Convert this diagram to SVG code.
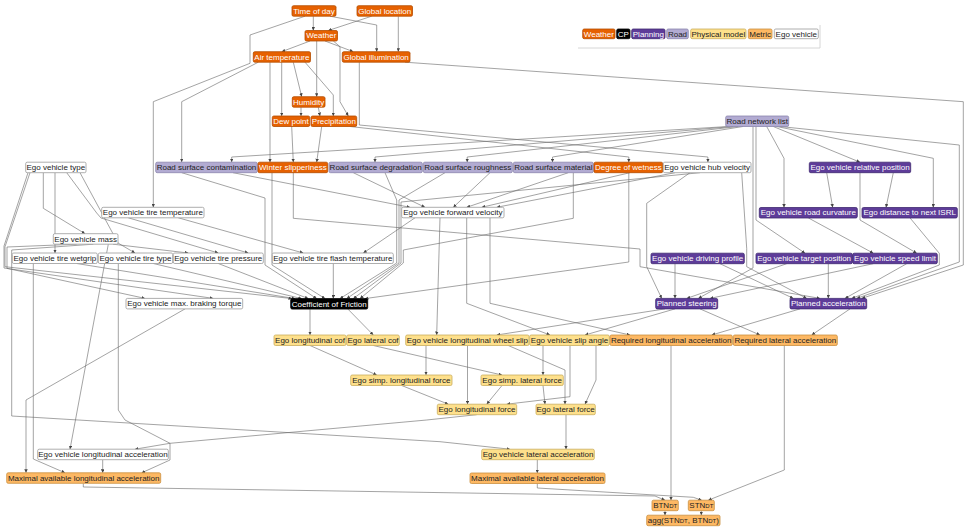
<svg xmlns="http://www.w3.org/2000/svg" width="969" height="531" viewBox="0 0 969 531">
<defs>
<marker id="ah" viewBox="0 0 10 10" refX="10" refY="5" markerWidth="3.5" markerHeight="3.5" markerUnits="userSpaceOnUse" orient="auto"><path d="M0,0 L10,5 L0,10z" fill="#444"/></marker>
<style>
text{font-family:"Liberation Sans",Arial,sans-serif;font-size:8px;text-anchor:middle}
.e path{fill:none;stroke:#666;stroke-width:0.6;marker-end:url(#ah)}
.n rect{rx:1.5;ry:1.5;stroke-width:0.8}
.w rect{fill:#e66101;stroke:#b34d00}.w text{fill:#fff}
.p rect{fill:#5e3c99;stroke:#3f2870}.p text{fill:#fff}
.r rect{fill:#b2abd2;stroke:#8c86ad}.r text{fill:#222}
.m rect{fill:#fee08b;stroke:#c9ad5e}.m text{fill:#222}
.t rect{fill:#fdb863;stroke:#c98f40}.t text{fill:#222}
.g rect{fill:#fff;stroke:#999}.g text{fill:#222}
.c rect{fill:#000;stroke:#000}.c text{fill:#fff}
.s{font-size:6px}
</style>
</defs>
<rect width="969" height="531" fill="#fff"/>
<g id="legend" class="n">
<polyline points="820,25 820,48 578,48" fill="none" stroke="#ccc" stroke-width="0.8"/>
<g class="w"><rect x="582.7" y="29" width="32.3" height="9.7"/><text x="598.85" y="36.6">Weather</text></g>
<g class="c"><rect x="616.7" y="29" width="13.3" height="9.7"/><text x="623.35" y="36.6">CP</text></g>
<g class="p"><rect x="631.7" y="29" width="33.3" height="9.7"/><text x="648.35" y="36.6">Planning</text></g>
<g class="r"><rect x="666.7" y="29" width="21.6" height="9.7"/><text x="677.5" y="36.6">Road</text></g>
<g class="m"><rect x="690.7" y="29" width="55.3" height="9.7"/><text x="718.35" y="36.6">Physical model</text></g>
<g class="t"><rect x="748.3" y="29" width="23.7" height="9.7"/><text x="760.15" y="36.6">Metric</text></g>
<g class="g"><rect x="774.3" y="29" width="44" height="9.7"/><text x="796.3" y="36.6">Ego vehicle</text></g>
</g>
<g id="connectors" class="e">
<path d="M313.3,16.2 V30.5"/>
<path d="M371.7,16.2 L328.3,30.5"/>
<path d="M330,16.2 L376.7,25 V51.7"/>
<path d="M398.3,16.2 V51.7"/>
<path d="M305,16.2 L250,35 V63.3 L153.3,101.7 V207.3"/>
<path d="M310,41 L281.7,51.7"/>
<path d="M316.7,41 V96.7"/>
<path d="M325,41 L353.3,51.7"/>
<path d="M333.3,41 L340,46.7 V101.7 L348.3,116"/>
<path d="M281.7,62.2 V116"/>
<path d="M293.3,62.2 L301.7,96.7"/>
<path d="M305,62.2 L333.3,95 V116"/>
<path d="M270,62.2 V162.2"/>
<path d="M258.3,62.2 L181.7,101.7 V162.2"/>
<path d="M301,107.2 V116"/>
<path d="M318.3,107.2 L320,116"/>
<path d="M291.7,126.5 L293.3,162.2"/>
<path d="M321.7,126.5 L316.7,162.2"/>
<path d="M728,126.5 L231.7,157 V162.2"/>
<path d="M733,126.5 L375,157 V162.2"/>
<path d="M738,126.5 L467.2,157 V162.2"/>
<path d="M743,126.5 L552.5,157 V162.2"/>
<path d="M350,126.5 L628.8,157 V162.2"/>
<path d="M359.3,62.2 V125 L707.9,157 V162.2"/>
<path d="M405,62.2 L963.3,101.7 V265 L861.7,298.4"/>
<path d="M766.7,126.5 L784,158.3 V207.5"/>
<path d="M773.3,126.5 L860,162.2"/>
<path d="M776.7,126.5 L933.3,158.3 V207.5"/>
<path d="M780,126.5 L959.3,145 V262 L856.7,298.4"/>
<path d="M756,126.5 V220 L805,253.2"/>
<path d="M753,126.5 V268 L698.3,298.4"/>
<path d="M826.7,172.7 L832.7,207.5"/>
<path d="M893.3,172.7 L886,207.5"/>
<path d="M860,172.7 V220 L916.7,253.2"/>
<path d="M808.3,217.9 L873.3,253.2"/>
<path d="M910,217.9 L939.3,253.3 V265 L851.7,298.4"/>
<path d="M675,263.7 V298.4"/>
<path d="M720,263.7 L793.3,298.4"/>
<path d="M786.7,263.7 L686.7,298.4"/>
<path d="M828.3,263.7 V298.4"/>
<path d="M873.3,263.7 L710,298.4"/>
<path d="M906.7,263.7 L845,298.4"/>
<path d="M690,172.7 L646.7,203.3 V266.7 L661.7,298.4"/>
<path d="M741.7,172.7 L746.7,248.3 V266.7 L806.7,298.4"/>
<path d="M293.3,172.7 V218.3 L640,249 V266.7 L820,298.4"/>
<path d="M233,172.7 L410,207.3"/>
<path d="M353.3,172.7 L425,207.3"/>
<path d="M385,172.7 L396.7,200 V263 L340,298.6"/>
<path d="M445,172.7 L399,200 V263 L346.7,298.6"/>
<path d="M490,172.7 L453.3,207.3"/>
<path d="M568.3,172.7 L466.7,207.3"/>
<path d="M573.3,172.7 V218.3 L403.3,250 V263 L360,298.6"/>
<path d="M630,172.7 L481.7,207.3"/>
<path d="M675,172.7 L496.7,207.3"/>
<path d="M628.8,172.7 V262 L365,298.6"/>
<path d="M700,172.7 L401,202 V263 L353.3,298.6"/>
<path d="M181.7,172.7 L265,198 V265 L316.7,298.6"/>
<path d="M272,172.7 V265 L325,298.6"/>
<path d="M76.7,263.5 L295,298.6"/>
<path d="M153.3,263.5 L301.7,298.6"/>
<path d="M218.3,263.5 L308.3,298.6"/>
<path d="M333.3,263.5 V298.6"/>
<path d="M128.3,217.8 L248.3,253"/>
<path d="M178.3,217.8 L303.3,253"/>
<path d="M415,217.8 L363.3,253"/>
<path d="M43.3,172.7 V208.3 L85,233.7"/>
<path d="M55,172.7 V253"/>
<path d="M80,172.7 L118,243 L135,253"/>
<path d="M66.7,172.7 L96.7,213 L101,218 L218.3,253"/>
<path d="M113,244.2 L188.3,253"/>
<path d="M30,172.7 L5,246.7 V266.7 L292,298.6"/>
<path d="M28,172.7 L4,246 V268 L213.3,298.4"/>
<path d="M76.7,244.2 L7,247 V268.3 L145,298.4"/>
<path d="M108.3,244.2 L70,449.2"/>
<path d="M93.3,244.2 L11.7,250 V416 L440,441.7 L510,449.2"/>
<path d="M33.3,263.5 V459 L65,472.8"/>
<path d="M185,308.9 L26,400 V472.8"/>
<path d="M118.3,263.5 V410 L125,420 L170,443.3 V460 L141.7,472.8"/>
<path d="M310,309.2 V335"/>
<path d="M348,309.2 L373.3,335"/>
<path d="M310,345.5 L376.7,375"/>
<path d="M373.3,345.5 L502,375"/>
<path d="M426,345.5 V375"/>
<path d="M467.5,345.5 V404.2"/>
<path d="M508.3,345.5 L565,370 V404.2"/>
<path d="M543,345.5 V375"/>
<path d="M570,345.5 V396.7 L506.7,404.2"/>
<path d="M596,345.5 V380 L585,404.2"/>
<path d="M401.7,385.5 L448.3,404.2"/>
<path d="M502,385.5 L486.7,404.2"/>
<path d="M543,385.5 L545,404.2"/>
<path d="M476.7,414.7 L426.7,420 L170,443.3 L135,449.2"/>
<path d="M566,414.7 V449.2"/>
<path d="M102.7,459.8 V472.8"/>
<path d="M537.3,459.7 V473"/>
<path d="M83.3,483.5 V487 L655,496 L665,500.2"/>
<path d="M537.3,483.5 V488 L693.3,497.3 L701.7,500.2"/>
<path d="M671,345.3 V500.2"/>
<path d="M784.3,345.3 V470 L708.3,500.2"/>
<path d="M665,510.7 V515.2"/>
<path d="M701.3,510.7 V515.2"/>
<path d="M440,217.8 L436.7,335"/>
<path d="M466.7,217.8 V303.3 L550,335"/>
<path d="M490,217.8 V303.3 L630,335"/>
<path d="M665,308.9 L496.7,335"/>
<path d="M675,308.9 L585,335"/>
<path d="M700,308.9 L760,335"/>
<path d="M800,308.9 L711.7,335"/>
<path d="M850,308.9 L811.7,335"/>
</g>
<g id="nodes" class="n">
<g id="tod" class="w"><rect x="292" y="5.7" width="44" height="10.5"/><text x="314" y="13.6">Time of day</text></g>
<g id="gloc" class="w"><rect x="357" y="5.7" width="55.5" height="10.5"/><text x="384.75" y="13.6">Global location</text></g>
<g id="weather" class="w"><rect x="305" y="30.5" width="32.5" height="10.5"/><text x="321.25" y="38.4">Weather</text></g>
<g id="airtemp" class="w"><rect x="253.3" y="51.7" width="57.2" height="10.5"/><text x="281.9" y="59.6">Air temperature</text></g>
<g id="gillum" class="w"><rect x="342.3" y="51.7" width="67.7" height="10.5"/><text x="376.15" y="59.6">Global illumination</text></g>
<g id="humidity" class="w"><rect x="292.3" y="96.7" width="32.7" height="10.5"/><text x="308.65" y="104.6">Humidity</text></g>
<g id="dewpoint" class="w"><rect x="272.3" y="116" width="37.4" height="10.5"/><text x="291" y="123.9">Dew point</text></g>
<g id="precip" class="w"><rect x="311" y="116" width="45.7" height="10.5"/><text x="333.85" y="123.9">Precipitation</text></g>
<g id="rnl" class="r"><rect x="725.7" y="116" width="63" height="10.5"/><text x="757.2" y="123.9">Road network list</text></g>
<g id="evt" class="g"><rect x="25.7" y="162.2" width="60.3" height="10.5"/><text x="55.85" y="170.1">Ego vehicle type</text></g>
<g id="rsc" class="r"><rect x="155.7" y="162.2" width="101.6" height="10.5"/><text x="206.5" y="170.1">Road surface contamination</text></g>
<g id="ws" class="w"><rect x="258" y="162.2" width="69.7" height="10.5"/><text x="292.85" y="170.1">Winter slipperiness</text></g>
<g id="rsd" class="r"><rect x="329" y="162.2" width="93.3" height="10.5"/><text x="375.65" y="170.1">Road surface degradation</text></g>
<g id="rsr" class="r"><rect x="423.3" y="162.2" width="89" height="10.5"/><text x="467.8" y="170.1">Road surface roughness</text></g>
<g id="rsm" class="r"><rect x="513.3" y="162.2" width="80" height="10.5"/><text x="553.3" y="170.1">Road surface material</text></g>
<g id="dow" class="w"><rect x="594" y="162.2" width="68.7" height="10.5"/><text x="628.35" y="170.1">Degree of wetness</text></g>
<g id="hub" class="g"><rect x="663.3" y="162.2" width="87.7" height="10.5"/><text x="707.15" y="170.1">Ego vehicle hub velocity</text></g>
<g id="evrp" class="p"><rect x="809.3" y="162.2" width="101.4" height="10.5"/><text x="860" y="170.1">Ego vehicle relative position</text></g>
<g id="tiretemp" class="g"><rect x="101.7" y="207.3" width="102.3" height="10.5"/><text x="152.85" y="215.2">Ego vehicle tire temperature</text></g>
<g id="fwdvel" class="g"><rect x="401.7" y="207.3" width="102.3" height="10.5"/><text x="452.85" y="215.2">Ego vehicle forward velocity</text></g>
<g id="curv" class="p"><rect x="759.3" y="207.5" width="98" height="10.5"/><text x="808.3" y="215.4">Ego vehicle road curvature</text></g>
<g id="isrl" class="p"><rect x="862" y="207.5" width="95.3" height="10.5"/><text x="909.65" y="215.4">Ego distance to next ISRL</text></g>
<g id="mass" class="g"><rect x="53.3" y="233.7" width="64.7" height="10.5"/><text x="85.65" y="241.6">Ego vehicle mass</text></g>
<g id="wetgrip" class="g"><rect x="12.3" y="253" width="85" height="10.5"/><text x="54.8" y="260.9">Ego vehicle tire wetgrip</text></g>
<g id="tiretype" class="g"><rect x="98.3" y="253" width="74.4" height="10.5"/><text x="135.5" y="260.9">Ego vehicle tire type</text></g>
<g id="tirepress" class="g"><rect x="173.3" y="253" width="90" height="10.5"/><text x="218.3" y="260.9">Ego vehicle tire pressure</text></g>
<g id="flash" class="g"><rect x="272.3" y="253" width="121" height="10.5"/><text x="332.8" y="260.9">Ego vehicle tire flash temperature</text></g>
<g id="drvprof" class="p"><rect x="651" y="253.2" width="93.3" height="10.5"/><text x="697.65" y="261.1">Ego vehicle driving profile</text></g>
<g id="targetpos" class="p"><rect x="756" y="253.2" width="96.3" height="10.5"/><text x="804.15" y="261.1">Ego vehicle target position</text></g>
<g id="speedlim" class="p"><rect x="852.7" y="253.2" width="84.6" height="10.5"/><text x="895" y="261.1">Ego vehicle speed limit</text></g>
<g id="brake" class="g"><rect x="126" y="298.4" width="116.7" height="10.5"/><text x="184.35" y="306.3">Ego vehicle max. braking torque</text></g>
<g id="cof" class="c"><rect x="290.7" y="298.6" width="77" height="10.5"/><text x="329.2" y="306.5">Coefficient of Friction</text></g>
<g id="psteer" class="p"><rect x="655.7" y="298.4" width="62" height="10.5"/><text x="686.7" y="306.3">Planned steering</text></g>
<g id="pacc" class="p"><rect x="790" y="298.4" width="76.7" height="10.5"/><text x="828.35" y="306.3">Planned acceleration</text></g>
<g id="lcof" class="m"><rect x="274" y="335" width="72" height="10.5"/><text x="310" y="342.9">Ego longitudinal cof</text></g>
<g id="latcof" class="m"><rect x="346.7" y="335" width="52.6" height="10.5"/><text x="373" y="342.9">Ego lateral cof</text></g>
<g id="wslip" class="m"><rect x="405.7" y="335" width="123.3" height="10.5"/><text x="467.35" y="342.9">Ego vehicle longitudinal wheel slip</text></g>
<g id="slipang" class="m"><rect x="529.7" y="335" width="79.6" height="10.5"/><text x="569.5" y="342.9">Ego vehicle slip angle</text></g>
<g id="reqlon" class="t"><rect x="610" y="335" width="122.3" height="10.5"/><text x="671.15" y="342.9">Required longitudinal acceleration</text></g>
<g id="reqlat" class="t"><rect x="733.3" y="335" width="104" height="10.5"/><text x="785.3" y="342.9">Required lateral acceleration</text></g>
<g id="simplon" class="m"><rect x="350.7" y="375" width="101.3" height="10.5"/><text x="401.35" y="382.9">Ego simp. longitudinal force</text></g>
<g id="simplat" class="m"><rect x="481" y="375" width="82.3" height="10.5"/><text x="522.15" y="382.9">Ego simp. lateral force</text></g>
<g id="lonforce" class="m"><rect x="437.3" y="404.2" width="79.4" height="10.5"/><text x="477" y="412.1">Ego longitudinal force</text></g>
<g id="latforce" class="m"><rect x="536" y="404.2" width="59.3" height="10.5"/><text x="565.65" y="412.1">Ego lateral force</text></g>
<g id="lonacc" class="g"><rect x="37.7" y="449.2" width="130.6" height="10.5"/><text x="103" y="457.1">Ego vehicle longitudinal acceleration</text></g>
<g id="latacc" class="m"><rect x="481.7" y="449.2" width="112.6" height="10.5"/><text x="538" y="457.1">Ego vehicle lateral acceleration</text></g>
<g id="mala" class="t"><rect x="6.7" y="472.8" width="154" height="10.5"/><text x="83.7" y="480.7">Maximal available longitudinal acceleration</text></g>
<g id="malata" class="t"><rect x="470" y="473" width="135" height="10.5"/><text x="537.5" y="480.9">Maximal available lateral acceleration</text></g>
<g id="btn" class="t"><rect x="652" y="500.2" width="26.3" height="10.5"/><text x="665.15" y="508.1">BTN<tspan class="s">DT</tspan></text></g>
<g id="stn" class="t"><rect x="688.3" y="500.2" width="26" height="10.5"/><text x="701.3" y="508.1">STN<tspan class="s">DT</tspan></text></g>
<g id="agg" class="t"><rect x="646.7" y="515.2" width="73.3" height="10.5"/><text x="683.35" y="523.1">agg(STN<tspan class="s">DT</tspan>, BTN<tspan class="s">DT</tspan>)</text></g>
</g>
</svg>
